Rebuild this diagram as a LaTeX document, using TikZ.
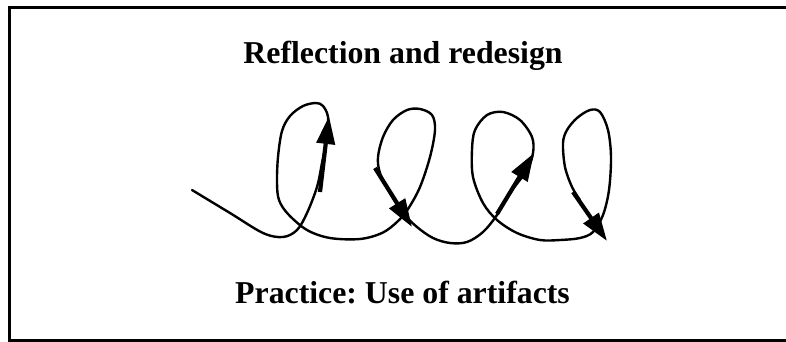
\documentclass[tikz,border=0pt]{standalone}
\usepackage{fontspec}
\setmainfont{Liberation Serif}
\usetikzlibrary{arrows.meta}
\frenchspacing
\begin{document}
\begin{tikzpicture}[x=1pt,y=-1pt,
  label/.style={font=\fontsize{31.8}{38}\selectfont\bfseries, anchor=base, inner sep=0pt},
  loopline/.style={line width=2.4pt, line join=round, line cap=round},
  flowarrow/.style={line width=4.2pt, -{Triangle[length=28pt,width=18pt]}},
  frameline/.style={line width=3pt}]
\clip (0,0) rectangle (786,341);
\fill[white] (0,0) rectangle (786,341);
\draw[frameline] (9.5,360) -- (9.5,7.5) -- (800,7.5);
\draw[frameline] (9.5,340) -- (800,340);
\node[label] (top) at (403,63) {\frenchspacing Reflection and redesign};
\node[label] (bottom) at (402.5,303) {\frenchspacing Practice: Use of artifacts};
\draw[loopline] plot[smooth, tension=0.55] coordinates {
 (192,190) (230,213) (263,233) (283,237) (297,230) (307,213) (317,187)
 (322,163) (327,137) (328,117) (323,106) (316,103) (303,106) (290,116)
 (282,131) (278,157) (277,183) (279,200) (288,214) (307,230) (330,238)
 (360,239) (382,233) (397,222) (408,209) (420,187) (430,157) (435,130)
 (432,115) (420,109) (407,110) (393,120) (383,137) (378,157) (380,173)
 (390,193) (403,213) (417,227) (433,238) (450,243) (467,242) (483,232)
 (497,215) (510,193) (527,170) (533,153) (532,137) (520,120) (503,112)
 (487,115) (475,130) (472,150) (473,177) (483,203) (497,220) (517,233)
 (540,240) (560,240) (580,238) (593,232) (603,215) (609,190) (611,157)
 (608,130) (600,112) (590,110) (577,118) (567,130) (563,143) (565,167)
 (572,187) (580,200)};
\coordinate (a1s) at (320,192); \coordinate (a1e) at (329,116);
\coordinate (a2s) at (375,168); \coordinate (a2e) at (412,227);
\coordinate (a3s) at (497,214); \coordinate (a3e) at (534,153);
\coordinate (a4s) at (573,192); \coordinate (a4e) at (607,241);
\draw[flowarrow] (a1s) -- (a1e);
\draw[flowarrow] (a2s) -- (a2e);
\draw[flowarrow] (a3s) -- (a3e);
\draw[flowarrow] (a4s) -- (a4e);
\end{tikzpicture}
\end{document}
